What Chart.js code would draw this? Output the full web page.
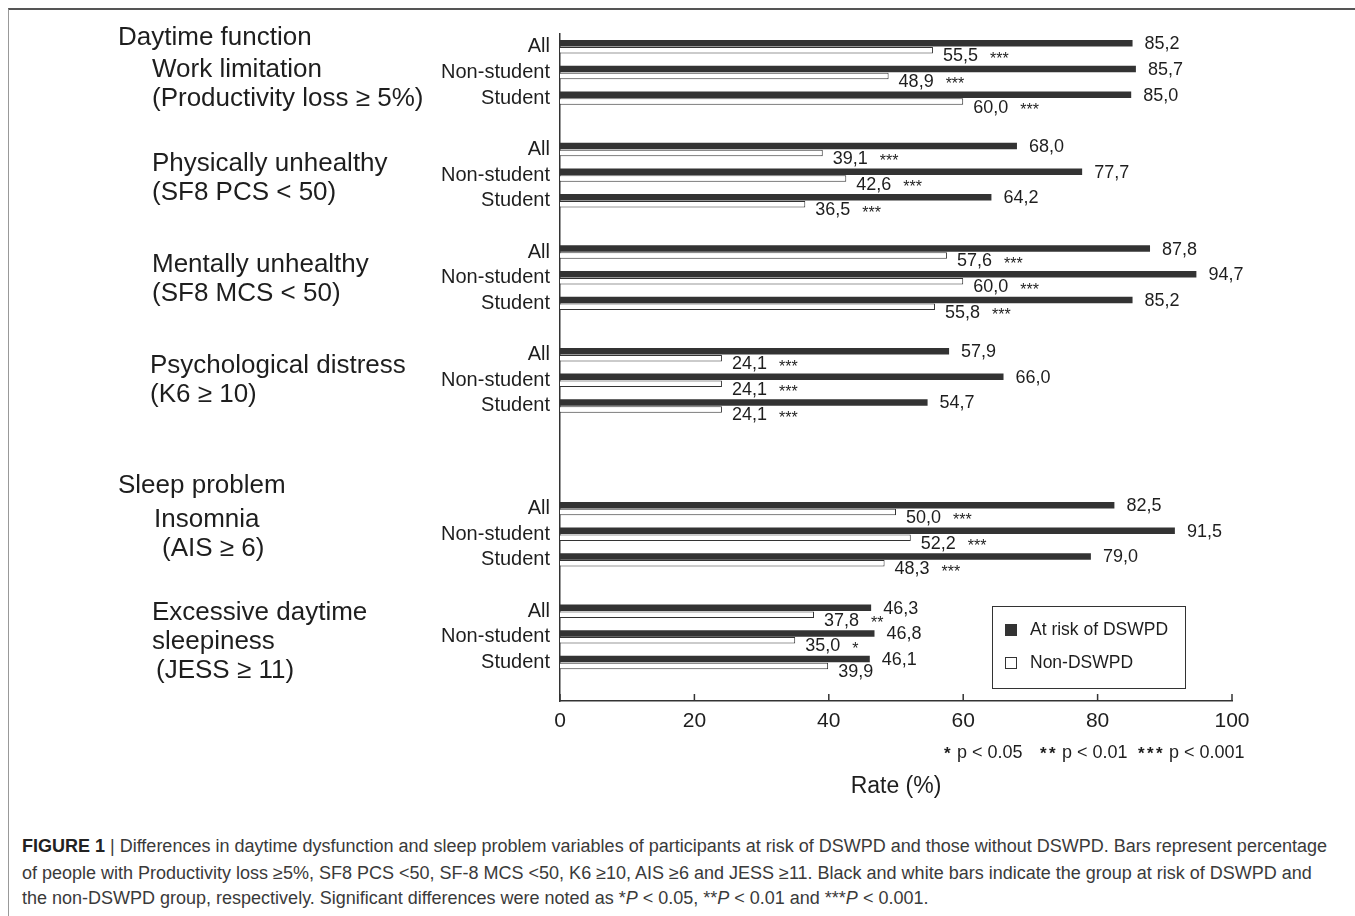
<!DOCTYPE html>
<html>
<head>
<meta charset="utf-8">
<script src="https://cdn.jsdelivr.net/npm/chart.js@4.4.1/dist/chart.umd.min.js"></script>
<style>
  body { margin: 0; background: #fff; font-family: "Liberation Sans", Arial, sans-serif; }
  #frame { position: absolute; left: 8px; top: 8px; right: 0; bottom: 0; border-top: 2px solid #555; border-left: 1px solid #999; }
  #wrap { position: absolute; left: 0; top: 0; width: 1355px; height: 830px; }
  .cap { position: absolute; left: 22px; font-size: 18px; color: #3a3a3a; white-space: nowrap; line-height: 26px; }
  .cap b { color: #222; }
</style>
</head>
<body>
<div id="frame"></div>
<div id="wrap"><canvas id="myChart"></canvas></div>
<div class="cap" style="top:833px"><b>FIGURE 1</b> | Differences in daytime dysfunction and sleep problem variables of participants at risk of DSWPD and those without DSWPD. Bars represent percentage</div>
<div class="cap" style="top:860px">of people with Productivity loss ≥5%, SF8 PCS &lt;50, SF-8 MCS &lt;50, K6 ≥10, AIS ≥6 and JESS ≥11. Black and white bars indicate the group at risk of DSWPD and</div>
<div class="cap" style="top:885px">the non-DSWPD group, respectively. Significant differences were noted as *<i>P</i> &lt; 0.05, **<i>P</i> &lt; 0.01 and ***<i>P</i> &lt; 0.001.</div>
<script>
// rows inside each group
const rowLabels = ['All', 'Non-student', 'Student'];
// group headings (left side)
const groupTitles = [
  ['Work limitation', '(Productivity loss \u2265 5%)'],
  ['Physically unhealthy', '(SF8 PCS < 50)'],
  ['Mentally unhealthy', '(SF8 MCS < 50)'],
  ['Psychological distress', '(K6 \u2265 10)'],
  ['Insomnia', '(AIS \u2265 6)'],
  ['Excessive daytime', 'sleepiness', '(JESS \u2265 11)']
];
// empty rows after each group
const gapsAfter = [1, 1, 1, 3, 1, 1];

const atRisk = [85.2, 85.7, 85.0, 68.0, 77.7, 64.2, 87.8, 94.7, 85.2, 57.9, 66.0, 54.7, 82.5, 91.5, 79.0, 46.3, 46.8, 46.1];
const nonDswpd = [55.5, 48.9, 60.0, 39.1, 42.6, 36.5, 57.6, 60.0, 55.8, 24.1, 24.1, 24.1, 50.0, 52.2, 48.3, 37.8, 35.0, 39.9];
const signif = ['***', '***', '***', '***', '***', '***', '***', '***', '***', '***', '***', '***', '***', '***', '***', '**', '*', ''];
const xTicks = [0, 20, 40, 60, 80, 100];

// build category list with blank spacer rows
const categories = [], riskData = [], nonData = [], starData = [], groupStart = [];
let k = 0;
groupTitles.forEach((g, gi) => {
  groupStart.push(categories.length);
  rowLabels.forEach(r => {
    categories.push(r);
    riskData.push(atRisk[k]);
    nonData.push(nonDswpd[k]);
    starData.push(signif[k]);
    k++;
  });
  for (let j = 0; j < gapsAfter[gi]; j++) {
    categories.push('');
    riskData.push(null);
    nonData.push(null);
    starData.push('');
  }
});

const FONT = '"Liberation Sans", Arial, sans-serif';
const fmt = v => v.toFixed(1).replace('.', ',');

const figureText = {
  id: 'figureText',
  afterDraw(chart) {
    const ctx = chart.ctx;
    const x = chart.scales.x, y = chart.scales.y;
    const area = chart.chartArea;
    ctx.save();
    ctx.fillStyle = '#1e1e1e';
    ctx.strokeStyle = '#333';

    // inward ticks on x axis
    ctx.lineWidth = 1.5;
    xTicks.forEach(t => {
      const px = x.getPixelForValue(t);
      ctx.beginPath();
      ctx.moveTo(px, area.bottom);
      ctx.lineTo(px, area.bottom - 7);
      ctx.stroke();
    });

    // value labels
    ctx.textBaseline = 'middle';
    ctx.textAlign = 'left';
    const mR = chart.getDatasetMeta(0), mN = chart.getDatasetMeta(1);
    riskData.forEach((v, i) => {
      if (v == null) return;
      const b = mR.data[i];
      ctx.font = '18px ' + FONT;
      ctx.fillText(fmt(v), b.x + 12, b.y + 1);
    });
    nonData.forEach((v, i) => {
      if (v == null) return;
      const b = mN.data[i];
      ctx.font = '18px ' + FONT;
      const s = fmt(v);
      ctx.fillText(s, b.x + 10, b.y + 6);
      const w = ctx.measureText(s).width;
      ctx.font = '16px ' + FONT;
      ctx.fillText(starData[i], b.x + 10 + w + 12, b.y + 9);
    });

    // left side headings
    ctx.font = '26px ' + FONT;
    const g0 = y.getPixelForValue(groupStart[0]);
    const g4 = y.getPixelForValue(groupStart[4]);
    ctx.fillText('Daytime function', 118, g0 - 9);
    ctx.fillText('Sleep problem', 118, g4 - 23);
    const titleX = [152, 152, 152, 150, 154, 152];
    const titleDy = [23, 14, 13, 11, 11, 2];
    groupTitles.forEach((lines, gi) => {
      const base = y.getPixelForValue(groupStart[gi]) + titleDy[gi];
      lines.forEach((t, li) => {
        let tx = titleX[gi];
        if (gi === 4 && li === 1) tx = 162;
        if (gi === 5 && li === 2) tx = 156;
        ctx.fillText(t, tx, base + li * 29);
      });
    });

    // legend
    const lx = 992, ly = 606;
    ctx.lineWidth = 1;
    ctx.strokeRect(lx + 0.5, ly + 0.5, 193, 82);
    ctx.font = '17.5px ' + FONT;
    const items = [
      { label: 'At risk of DSWPD', fill: chart.data.datasets[0].backgroundColor, yy: ly + 24 },
      { label: 'Non-DSWPD', fill: chart.data.datasets[1].backgroundColor, yy: ly + 57 }
    ];
    items.forEach(it => {
      ctx.fillStyle = it.fill;
      ctx.fillRect(lx + 13, it.yy - 6, 12, 12);
      ctx.strokeRect(lx + 13.5, it.yy - 5.5, 11, 11);
      ctx.fillStyle = '#1e1e1e';
      ctx.fillText(it.label, lx + 38, it.yy);
    });

    // significance key
    const keyY = area.bottom + 52;
    [['*', 'p < 0.05', 944], ['**', 'p < 0.01', 1040], ['***', 'p < 0.001', 1138]].forEach(p => {
      ctx.font = 'bold 17px ' + FONT;
      const n = p[0].length;
      for (let j = 0; j < n; j++) ctx.fillText('*', p[2] + j * 9, keyY + 1);
      ctx.font = '18px ' + FONT;
      ctx.fillText(p[1], p[2] + n * 9 + 4, keyY);
    });

    // axis title
    ctx.textAlign = 'center';
    ctx.font = '23px ' + FONT;
    ctx.fillText('Rate (%)', (area.left + area.right) / 2, area.bottom + 86);
    ctx.restore();
  }
};

const ctx = document.getElementById('myChart').getContext('2d');
const myChart = new Chart(ctx, {
  type: 'bar',
  data: {
    labels: categories,
    datasets: [{
      label: 'At risk of DSWPD',
      data: riskData,
      backgroundColor: '#333333',
      borderWidth: 0
    }, {
      label: 'Non-DSWPD',
      data: nonData,
      backgroundColor: '#ffffff',
      borderColor: '#333333',
      borderWidth: 1
    }]
  },
  options: {
    indexAxis: 'y',
    responsive: true,
    maintainAspectRatio: false,
    animation: false,
    categoryPercentage: 0.54,
    barPercentage: 0.94,
    layout: { padding: { top: 34, right: 123, left: 0, bottom: 0 } },
    plugins: {
      legend: { display: false },
      tooltip: { enabled: false }
    },
    scales: {
      x: {
        min: 0,
        max: 100,
        ticks: { stepSize: 20, color: '#1e1e1e', font: { size: 21, family: FONT }, padding: 8 },
        grid: { display: false, drawTicks: false },
        border: { color: '#333', width: 1.5 },
        afterFit(s) { s.height = 830 - 701; }
      },
      y: {
        ticks: { autoSkip: false, color: '#1e1e1e', font: { size: 20, family: FONT }, padding: 10 },
        grid: { display: false, drawTicks: false },
        border: { color: '#333', width: 1.5 },
        afterFit(s) { s.width = 560; }
      }
    }
  },
  plugins: [figureText]
});
</script>
</body>
</html>
